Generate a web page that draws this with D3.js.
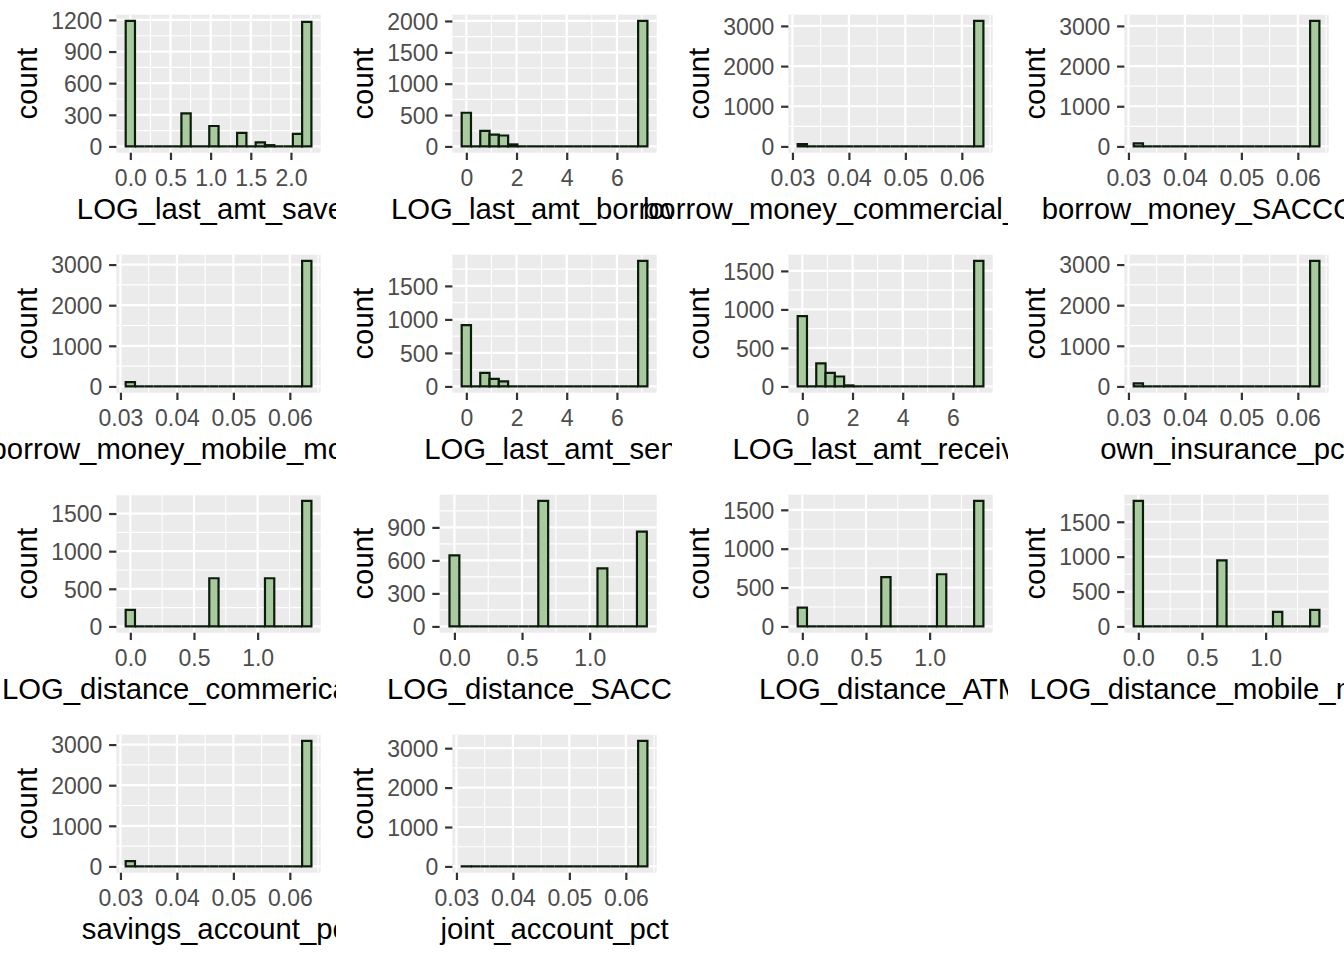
<!DOCTYPE html>
<html><head><meta charset="utf-8">
<script src="https://cdn.jsdelivr.net/npm/d3@7"></script>
<style>body{margin:0;background:#fff} svg{display:block}</style>
</head><body>
<svg id="c" width="1344" height="960"></svg>
<script>
// ---------------- data ----------------
const panelTitles = [
  "LOG_last_amt_saved", "LOG_last_amt_borrowed", "borrow_money_commercial_bank_pct", "borrow_money_SACCO_pct",
  "borrow_money_mobile_money_pct", "LOG_last_amt_sent", "LOG_last_amt_received", "own_insurance_pct",
  "LOG_distance_commerical_bank", "LOG_distance_SACCOs", "LOG_distance_ATM", "LOG_distance_mobile_money",
  "savings_account_pct", "joint_account_pct"
];
// smallest and largest observed value (centre of first / last of the 20 bins)
const binMin = [0, 0, 0.03175, 0.03175, 0.03175, 0, 0, 0.03175, 0, 0, 0, 0, 0.03175, 0.03175];
const binMax = [2.197, 7.03, 0.0630, 0.0630, 0.0630, 7.03, 7.03, 0.0630, 1.386, 1.386, 1.386, 1.386, 0.0630, 0.0630];

// counts of the 20 bins per panel
const countsSaved      = [1190,0,0,0,0,0,313,0,0,194,0,0,128,0,38,12,0,0,119,1181];
const countsBorrowed   = [537,0,247,189,174,32,0,0,0,0,0,0,0,0,0,0,0,0,0,2000];
const countsCommercial = [58,0,0,0,0,0,0,0,0,0,0,0,0,0,0,0,0,0,0,3123];
const countsSacco      = [74,0,0,0,0,0,0,0,0,0,0,0,0,0,0,0,0,0,0,3123];
const countsMobile     = [106,0,0,0,0,0,0,0,0,0,0,0,0,0,0,0,0,0,0,3089];
const countsSent       = [916,0,202,113,74,0,0,0,0,0,0,0,0,0,0,0,0,0,0,1872];
const countsReceived   = [913,0,300,176,129,13,0,0,0,0,0,0,0,0,0,0,0,0,0,1629];
const countsInsurance  = [73,0,0,0,0,0,0,0,0,0,0,0,0,0,0,0,0,0,0,3089];
const countsDistBank   = [219,0,0,0,0,0,0,0,0,640,0,0,0,0,0,640,0,0,0,1667];
const countsDistSacco  = [645,0,0,0,0,0,0,0,0,1140,0,0,0,0,0,528,0,0,0,861];
const countsDistAtm    = [242,0,0,0,0,0,0,0,0,633,0,0,0,0,0,671,0,0,0,1614];
const countsDistMobile = [1798,0,0,0,0,0,0,0,0,946,0,0,0,0,0,208,0,0,0,237];
const countsSavings    = [129,0,0,0,0,0,0,0,0,0,0,0,0,0,0,0,0,0,0,3089];
const countsJoint      = [3,0,0,0,0,0,0,0,0,0,0,0,0,0,0,0,0,0,0,3183];
const panelCounts = [countsSaved, countsBorrowed, countsCommercial, countsSacco, countsMobile, countsSent,
  countsReceived, countsInsurance, countsDistBank, countsDistSacco, countsDistAtm, countsDistMobile,
  countsSavings, countsJoint];

// tick values and labels
const xTicksLog2 = [0, 0.5, 1, 1.5, 2];       const xLabelsLog2 = ["0.0","0.5","1.0","1.5","2.0"];
const xTicksLog7 = [0, 2, 4, 6];              const xLabelsLog7 = ["0","2","4","6"];
const xTicksPct  = [0.03, 0.04, 0.05, 0.06];  const xLabelsPct  = ["0.03","0.04","0.05","0.06"];
const xTicksDist = [0, 0.5, 1];               const xLabelsDist = ["0.0","0.5","1.0"];
const panelXTicks  = [xTicksLog2, xTicksLog7, xTicksPct, xTicksPct, xTicksPct, xTicksLog7, xTicksLog7, xTicksPct,
  xTicksDist, xTicksDist, xTicksDist, xTicksDist, xTicksPct, xTicksPct];
const panelXLabels = [xLabelsLog2, xLabelsLog7, xLabelsPct, xLabelsPct, xLabelsPct, xLabelsLog7, xLabelsLog7, xLabelsPct,
  xLabelsDist, xLabelsDist, xLabelsDist, xLabelsDist, xLabelsPct, xLabelsPct];
const yTicks300  = [0, 300, 600, 900, 1200];
const yTicks500  = [0, 500, 1000, 1500, 2000];
const yTicks1000 = [0, 1000, 2000, 3000];
const yTicks500s = [0, 500, 1000, 1500];
const yTicks300s = [0, 300, 600, 900];
const panelYTicks = [yTicks300, yTicks500, yTicks1000, yTicks1000, yTicks1000, yTicks500s, yTicks500s, yTicks1000,
  yTicks500s, yTicks300s, yTicks500s, yTicks500s, yTicks1000, yTicks1000];

// ---------------- style / layout ----------------
const FONT = "'Liberation Sans', Arial, sans-serif";
const TICK_FS = 23, TITLE_FS = 29.3;
const CELL_W = 336, CELL_H = 240;
const FILL = "#A9CA9F", STROKE = "#0C1C0C";

const svg = d3.select("#c");
svg.append("rect").attr("width", 1344).attr("height", 960).attr("fill", "#fff");

// text measurer
const meas = svg.append("text").attr("font-family", FONT).attr("font-size", TICK_FS).attr("visibility", "hidden");
function textW(s) { meas.text(s); return meas.node().getComputedTextLength(); }
const refW = textW("0000");

function minorsOf(major, lo, hi) {
  const step = major[1] - major[0];
  const out = [];
  for (let k = -1; k < major.length; k++) {
    const v = major[0] + step * (k + 0.5);
    if (v >= lo && v <= hi) out.push(v);
  }
  return out;
}

panelTitles.forEach((title, i) => {
  const col = i % 4, row = Math.floor(i / 4);
  const g = svg.append("g").attr("transform", `translate(${col * CELL_W},${row * CELL_H})`);
  g.append("rect").attr("width", CELL_W).attr("height", CELL_H).attr("fill", "#fff");

  const counts = panelCounts[i];
  const yt = panelYTicks[i];
  const maxLab = d3.max(yt, v => textW(String(v)));
  const left = 116.4 + (maxLab - refW), right = 320.7, top = 14.7, bottom = 152.7;

  const nb = counts.length;
  const w = (binMax[i] - binMin[i]) / (nb - 1);
  const lo = binMin[i] - w / 2, hi = binMax[i] + w / 2;
  const xd0 = lo - 0.05 * (hi - lo), xd1 = hi + 0.05 * (hi - lo);
  const x = d3.scaleLinear().domain([xd0, xd1]).range([left, right]);
  const M = d3.max(counts);
  const yd0 = -0.05 * M, yd1 = 1.05 * M;
  const y = d3.scaleLinear().domain([yd0, yd1]).range([bottom, top]);

  // panel background
  g.append("rect").attr("x", left).attr("y", top).attr("width", right - left).attr("height", bottom - top).attr("fill", "#EBEBEB");

  const xt = panelXTicks[i];
  const xMin = minorsOf(xt, xd0, xd1), yMin = minorsOf(yt, yd0, yd1);
  const grid = g.append("g").attr("stroke", "#fff").attr("fill", "none");
  grid.selectAll(".ymn").data(yMin).join("line").attr("x1", left).attr("x2", right)
    .attr("y1", d => y(d)).attr("y2", d => y(d)).attr("stroke-width", 1.1);
  grid.selectAll(".xmn").data(xMin).join("line").attr("y1", top).attr("y2", bottom)
    .attr("x1", d => x(d)).attr("x2", d => x(d)).attr("stroke-width", 1.1);
  grid.selectAll(".ymj").data(yt).join("line").attr("x1", left).attr("x2", right)
    .attr("y1", d => y(d)).attr("y2", d => y(d)).attr("stroke-width", 2.2);
  grid.selectAll(".xmj").data(xt).join("line").attr("y1", top).attr("y2", bottom)
    .attr("x1", d => x(d)).attr("x2", d => x(d)).attr("stroke-width", 2.2);

  // bars
  const bins = counts.map((c, k) => ({ c: binMin[i] + k * w, n: c }));
  g.append("g").selectAll("path").data(bins).join("path")
    .attr("d", d => {
      const x0 = x(d.c - w / 2), x1 = x(d.c + w / 2), y0 = y(0), y1 = y(d.n);
      return `M${x0},${y0}V${y1}H${x1}V${y0}Z`;
    })
    .attr("fill", FILL).attr("stroke", STROKE).attr("stroke-width", 2.2).attr("stroke-linejoin", "miter");

  // axes
  const xAxis = d3.axisBottom(x).tickValues(xt).tickFormat((d, k) => panelXLabels[i][k]).tickSizeOuter(0).tickSize(7.3).tickPadding(9.2);
  const ga = g.append("g").attr("transform", `translate(0,${bottom})`).call(xAxis);
  const yAxis = d3.axisLeft(y).tickValues(yt).tickFormat(d => String(d)).tickSizeOuter(0).tickSize(7.3).tickPadding(6.7);
  const gb = g.append("g").attr("transform", `translate(${left},0)`).call(yAxis);
  [ga, gb].forEach(a => {
    a.select(".domain").remove();
    a.selectAll(".tick line").attr("stroke", "#333333").attr("stroke-width", 2.2);
    a.selectAll(".tick text").attr("fill", "#4D4D4D").attr("font-family", FONT).attr("font-size", TICK_FS);
  });
  gb.selectAll(".tick text").attr("dy", "0.36em");

  // titles
  g.append("text").attr("x", (left + right) / 2).attr("y", 219).attr("text-anchor", "middle")
    .attr("font-family", FONT).attr("font-size", TITLE_FS).attr("fill", "#000").text(title);
  g.append("text").attr("transform", `translate(36.7,${(top + bottom) / 2}) rotate(-90)`).attr("text-anchor", "middle")
    .attr("font-family", FONT).attr("font-size", TITLE_FS).attr("fill", "#000").text("count");
});
meas.remove();
</script>
</body></html>
